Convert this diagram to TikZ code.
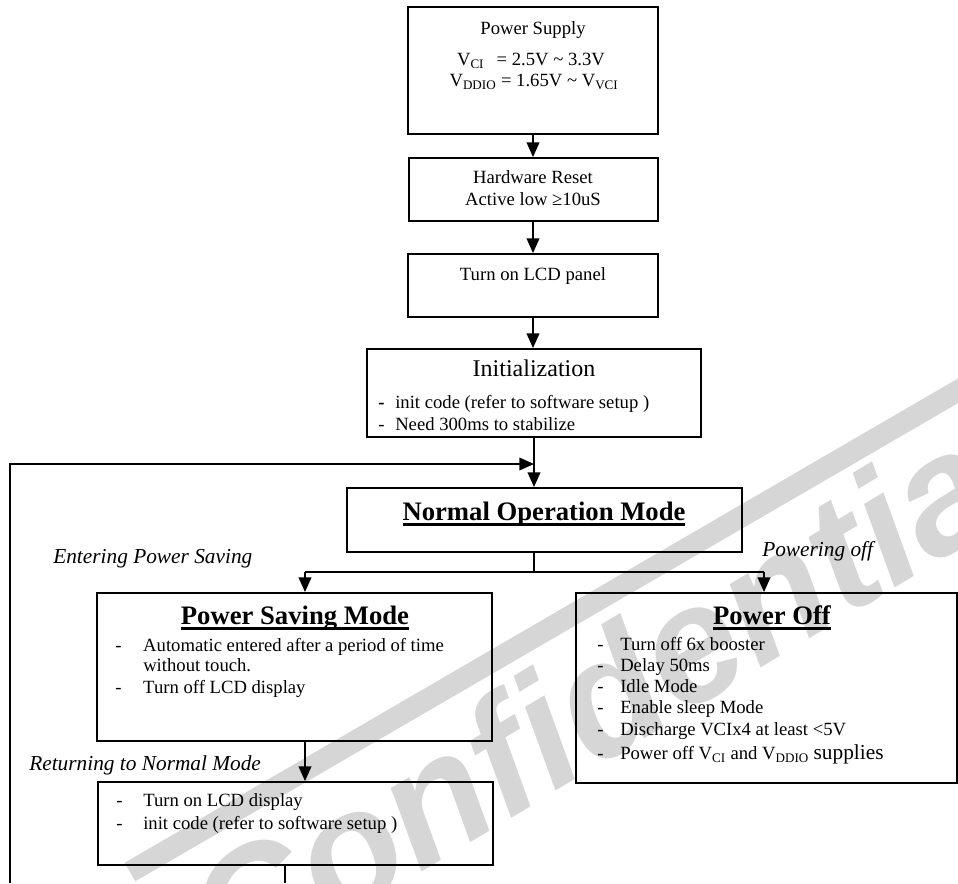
\documentclass[tikz,border=0pt]{standalone}
\usepackage{fontspec}
\setmainfont{Liberation Serif}
\newfontfamily\wmfont{Liberation Sans}
\usetikzlibrary{arrows.meta}
\newsavebox\ulbox
\newcommand\myul[1]{\sbox\ulbox{#1}\mbox{\usebox\ulbox\kern-\wd\ulbox\rule[-4pt]{\wd\ulbox}{1.7pt}}}
\begin{document}
\begin{tikzpicture}[x=0.75pt,y=-0.75pt,
  box/.style={draw, line width=1.4pt, inner sep=0pt},
  txt/.style={inner sep=0pt, text height=0.7em, text depth=0.2em, font=\fontsize{14}{16}\selectfont},
  ttl/.style={txt, font=\fontsize{20}{24}\selectfont\bfseries},
  lbl/.style={txt, anchor=west, font=\fontsize{16}{19}\selectfont\itshape},
  item/.style={txt, anchor=west},
  conn/.style={line width=1.2pt},
  arr/.style={conn, -{Triangle[length=11pt,width=9.5pt]}},
  wmark/.style={text=black!16, inner sep=0pt, font=\wmfont\bfseries\itshape\fontsize{124}{130}\selectfont}
]
\useasboundingbox (0,0) rectangle (958,883);
% watermark
\begin{scope}
\clip (0,0) rectangle (958,883);
\node[wmark, rotate=31] (wm) at (610,690) {Confidential};
\draw[black!16, line width=16pt] (130,872) -- (980,378);
\end{scope}
% boxes
\node[box, minimum width=187.5pt, minimum height=95.25pt] (ps) at (533,70.5) {};
\node[box, minimum width=186.75pt, minimum height=47.25pt] (hr) at (533.5,189.5) {};
\node[box, minimum width=187.5pt, minimum height=47.25pt] (lcd) at (533,285.5) {};
\node[box, minimum width=250.5pt, minimum height=66pt] (init) at (534,393) {};
\node[box, minimum width=296.25pt, minimum height=48pt] (nom) at (544.5,520) {};
\node[box, minimum width=296.25pt, minimum height=111pt] (psm) at (294.5,667) {};
\node[box, minimum width=285.75pt, minimum height=142.5pt] (pof) at (766.5,688) {};
\node[box, minimum width=296.25pt, minimum height=62.25pt] (low) at (295.5,823.5) {};
% texts
\node[txt] (psT) at (533,31) {Power Supply};
\node[txt] (psV1) at (531,62) {V\textsubscript{CI}\ \ \,= 2.5V \textasciitilde{} 3.3V};
\node[txt] (psV2) at (534,83) {V\textsubscript{DDIO} = 1.65V \textasciitilde{} V\textsubscript{VCI}};
\node[txt] (hrT1) at (533,180) {Hardware Reset};
\node[txt] (hrT2) at (533,202) {Active low ≥10uS};
\node[txt] (lcdT) at (533,277) {Turn on LCD panel};
\node[txt, font=\fontsize{18}{21}\selectfont] (initT) at (534,373) {Initialization};
\node[item] (init1) at (378,405) {\makebox[12.75pt][l]{\textbf{-}}init code (refer to software setup )};
\node[item] (init2) at (378,427) {\makebox[12.75pt][l]{-}Need 300ms to stabilize};
\node[ttl] (nomT) at (544,517) {\myul{Normal Operation Mode}};
\node[lbl] (entL) at (53,560) {Entering Power Saving};
\node[lbl] (pofL) at (762,553) {Powering off};
\node[lbl] (retL) at (29,767) {Returning to Normal Mode};
\node[ttl] (psmT) at (295,621) {\myul{Power Saving Mode}};
\node[item] (psm1) at (115,648) {\makebox[21pt][l]{-}Automatic entered after a period of time};
\node[item] (psm1b) at (143,668) {without touch.};
\node[item] (psm2) at (115,690) {\makebox[21pt][l]{-}Turn off LCD display};
\node[ttl] (pofT) at (772,621) {\myul{Power Off}};
\node[item] (pof1) at (597,647) {\makebox[17.25pt][l]{-}Turn off 6x booster};
\node[item] (pof2) at (597,668) {\makebox[17.25pt][l]{-}Delay 50ms};
\node[item] (pof3) at (597,689) {\makebox[17.25pt][l]{-}Idle Mode};
\node[item] (pof4) at (597,710) {\makebox[17.25pt][l]{-}Enable sleep Mode};
\node[item] (pof5) at (597,732) {\makebox[17.25pt][l]{-}Discharge VCIx4 at least <5V};
\node[item] (pof6) at (597,756) {\makebox[17.25pt][l]{-}Power off V\textsubscript{CI} and V\textsubscript{DDIO} {\fontsize{16}{19}\selectfont supplies}};
\node[item] (low1) at (116,803) {\makebox[20.25pt][l]{-}Turn on LCD display};
\node[item] (low2) at (116,826) {\makebox[20.25pt][l]{-}init code (refer to software setup )};
% connectors
\coordinate (jn) at (534,572);
\coordinate (jl) at (305,572);
\coordinate (jr) at (764,572);
\coordinate (lpA) at (285,883);
\coordinate (lpB) at (10,883);
\coordinate (lpC) at (10,464);
\draw[arr] (ps.south) -- (ps.south |- hr.north);
\draw[arr] (ps.south |- hr.south) -- (ps.south |- lcd.north);
\draw[arr] (lcd.south) -- (lcd.south |- init.north);
\draw[arr] (init.south) -- (init.south |- nom.north);
\draw[conn] (init.south |- nom.south) -- (jn);
\draw[conn] (jl) -- (jr);
\draw[arr] (jl) -- (jl |- psm.north);
\draw[arr] (jr) -- (jr |- pof.north);
\draw[arr] (jl |- psm.south) -- (jl |- low.north);
\draw[conn] (lpA |- low.south) -- (lpA);
\draw[arr] (lpB) -- (lpC) -- (init.south |- lpC);
\end{tikzpicture}
\end{document}
